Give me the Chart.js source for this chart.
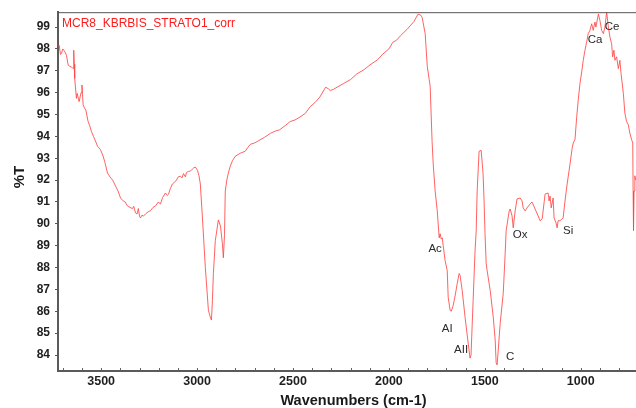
<!DOCTYPE html>
<html>
<head>
<meta charset="utf-8">
<script src="https://cdn.jsdelivr.net/npm/chart.js@4.4.1/dist/chart.umd.min.js"></script>
<style>
  html, body { margin: 0; padding: 0; background: #ffffff; overflow: hidden; }
  #wrap { width: 636px; height: 408px; }
</style>
</head>
<body>
<div id="wrap"><canvas id="c" width="636" height="408"></canvas></div>
<script>
// ---- Data ----
const chartTitle = "MCR8_KBRBIS_STRATO1_corr";
const xAxisTitle = "Wavenumbers (cm-1)";
const yAxisTitle = "%T";

const wavenumbers = [
  3725,3719,3712,3707,3700,3695,3688,3681,3672,3663,3655,3646,3643,3640,3638,3629,3625,3615,3605,3600,
  3594,3587,3580,3568,3560,3551,3540,3533,3519,3504,3490,3480,3467,3450,3440,3425,3412,3399,3385,3375,
  3363,3350,3337,3330,3321,3313,3306,3300,3295,3287,3280,3269,3255,3243,3230,3217,3202,3191,3180,3165,
  3155,3149,3140,3129,3118,3108,3098,3087,3078,3071,3061,3055,3045,3035,3025,3019,3009,2998,2990,2983,
  2972,2957,2941,2930,2925,2920,2915,2905,2889,2878,2868,2863,2857,2853,2845,2837,2827,2815,2801,2775,
  2749,2735,2722,2700,2680,2650,2618,2590,2570,2540,2514,2490,2470,2436,2410,2385,2360,2330,2316,2306,
  2290,2270,2238,2200,2167,2130,2099,2060,2031,2000,1980,1960,1940,1905,1870,1848,1835,1827,1811,1800,
  1790,1785,1775,1769,1759,1748,1738,1733,1727,1722,1717,1707,1696,1691,1681,1675,1665,1655,1644,1634,
  1629,1618,1603,1587,1577,1572,1561,1551,1545,1540,1530,1519,1509,1504,1499,1493,1488,1472,1456,1446,
  1441,1436,1430,1420,1404,1394,1389,1373,1368,1358,1352,1342,1332,1316,1306,1300,1290,1280,1264,1254,
  1238,1222,1212,1201,1186,1170,1165,1160,1154,1144,1139,1129,1123,1118,1108,1092,1082,1071,1056,1045,
  1039,1030,1021,1013,1004,995,987,978,969,961,952,943,935,926,921,908,900,891,882,874,
  865,856,848,839,834,827,822,813,804,796,790,778,770,761,752,744,735,729,727,725,
  722,718,714
];
const transmittance = [
  98.10,98.17,97.75,97.79,98.00,97.94,97.85,97.71,97.26,97.20,97.18,97.10,97.94,97.30,96.65,95.74,95.97,95.59,96.00,96.35,
  95.44,95.30,95.20,94.68,94.50,94.23,94.00,93.86,93.55,93.40,93.10,92.80,92.32,92.10,92.00,91.73,91.50,91.18,91.05,91.00,
  90.82,90.75,90.70,90.80,90.50,90.45,90.70,90.35,90.27,90.40,90.35,90.45,90.55,90.60,90.75,90.82,91.00,90.90,91.20,91.41,
  91.30,91.35,91.60,91.82,91.90,92.00,92.15,92.18,92.10,92.30,92.15,92.35,92.40,92.41,92.50,92.55,92.60,92.45,92.20,91.82,
  90.27,88.00,86.05,85.70,85.60,86.50,87.73,89.23,90.18,89.90,89.09,88.45,89.50,91.50,92.00,92.32,92.64,92.90,93.09,93.23,
  93.32,93.50,93.64,93.70,93.80,93.95,94.14,94.25,94.30,94.50,94.68,94.75,94.85,95.05,95.36,95.55,95.80,96.25,96.18,96.10,
  96.15,96.25,96.41,96.60,96.86,97.05,97.27,97.50,97.77,98.00,98.30,98.40,98.60,98.90,99.25,99.59,99.55,99.45,98.70,97.20,
  96.60,96.30,93.77,92.73,91.50,90.60,89.36,89.55,89.30,89.36,89.00,88.32,87.86,86.64,86.05,86.00,86.27,86.70,87.27,87.73,
  87.64,86.95,85.73,84.55,83.86,84.00,86.50,88.77,89.68,91.50,93.32,93.36,92.27,91.05,89.55,88.18,87.86,86.95,85.73,84.68,
  83.64,83.55,84.23,85.45,86.82,88.64,89.68,90.59,90.68,90.36,89.82,90.59,91.14,91.18,91.05,90.73,90.59,90.73,90.91,91.00,
  90.68,90.36,90.14,90.23,91.36,91.41,91.05,91.27,90.73,91.18,90.27,90.05,89.82,90.14,90.14,90.27,91.05,91.82,92.73,93.45,
  93.70,93.86,94.90,95.67,96.42,96.95,97.48,97.94,98.32,98.70,98.85,99.15,98.85,99.23,99.00,99.60,99.30,98.85,98.70,99.00,
  99.68,99.00,98.55,98.24,97.64,97.94,97.48,97.64,97.10,97.48,96.88,95.97,95.06,94.68,94.53,94.15,93.85,93.70,91.50,89.70,
  91.50,92.20,92.00
];

// Peak annotations (text, wavenumber, %T of the label centre)
const peakLabels = ["Ac", "AI", "AII", "C", "Ox", "Si", "Ca", "Ce"];
const peakLabelX = [1759, 1696, 1624, 1368, 1316, 1066, 925, 837];
const peakLabelY = [88.86, 85.18, 84.23, 83.91, 89.50, 89.68, 98.41, 99.00];

// Axis ticks
const xTickLabels = [3500, 3000, 2500, 2000, 1500, 1000];
const xMinorTicks = [3700,3600,3500,3400,3300,3200,3100,3000,2900,2800,2700,2600,2500,2400,2300,2200,2100,
                     2000,1900,1800,1700,1600,1500,1400,1300,1200,1100,1000,900,800];
const yTickLabels = [84,85,86,87,88,89,90,91,92,93,94,95,96,97,98,99];

const FONT = "'Liberation Sans', Arial, sans-serif";

const framePlugin = {
  id: 'frame',
  afterDraw(chart) {
    const {ctx, chartArea, scales} = chart;
    const xs = scales.x, ys = scales.y;
    ctx.save();
    // top border
    ctx.strokeStyle = '#555555';
    ctx.lineWidth = 1;
    ctx.beginPath();
    ctx.moveTo(chartArea.left, chartArea.top + 0.5);
    ctx.lineTo(chartArea.right, chartArea.top + 0.5);
    ctx.stroke();
    // inward minor ticks on x axis
    ctx.strokeStyle = '#666666';
    ctx.beginPath();
    xMinorTicks.forEach(v => {
      const px = Math.round(xs.getPixelForValue(v)) + 0.5;
      ctx.moveTo(px, chartArea.bottom - 1);
      ctx.lineTo(px, chartArea.bottom - 3);
    });
    ctx.stroke();
    // title
    ctx.fillStyle = '#ff1a1a';
    ctx.font = "12px " + FONT;
    ctx.textAlign = 'left';
    ctx.textBaseline = 'top';
    ctx.fillText(chartTitle, chartArea.left + 4, chartArea.top + 5);
    // peak labels
    ctx.fillStyle = '#2a2a2a';
    ctx.font = "11.5px " + FONT;
    ctx.textAlign = 'center';
    ctx.textBaseline = 'middle';
    peakLabels.forEach((t, i) => {
      ctx.fillText(t, xs.getPixelForValue(peakLabelX[i]), ys.getPixelForValue(peakLabelY[i]));
    });
    // axis titles
    ctx.fillStyle = '#1a1a1a';
    ctx.font = "bold 14.5px " + FONT;
    ctx.textAlign = 'center';
    ctx.textBaseline = 'middle';
    ctx.fillText(xAxisTitle, 353.5, 401);
    ctx.save();
    ctx.translate(19.5, 177);
    ctx.rotate(-Math.PI / 2);
    ctx.font = "bold 15px " + FONT;
    ctx.fillText(yAxisTitle, 0, 0);
    ctx.restore();
    ctx.restore();
  }
};

new Chart(document.getElementById('c'), {
  type: 'line',
  data: {
    datasets: [{
      data: wavenumbers.map((w, i) => ({x: w, y: transmittance[i]})),
      borderColor: 'rgba(255,70,70,0.85)',
      borderWidth: 1,
      pointRadius: 0,
      tension: 0,
      fill: false
    }]
  },
  options: {
    responsive: false,
    animation: false,
    devicePixelRatio: 1,
    layout: { padding: { top: 10, right: 0, left: 0, bottom: 0 } },
    plugins: { legend: { display: false }, tooltip: { enabled: false }, title: { display: false } },
    scales: {
      x: {
        type: 'linear',
        reverse: true,
        min: 712,
        max: 3725,
        afterBuildTicks: s => { s.ticks = xTickLabels.map(v => ({value: v})); },
        afterFit: s => { s.height = 37; },
        grid: { display: true, drawOnChartArea: false, drawTicks: false },
        border: { display: true, color: '#5a5a5a', width: 2 },
        ticks: {
          padding: 3,
          color: '#1f1f1f',
          font: { family: FONT, size: 12.5, weight: 'bold' },
          maxRotation: 0,
          autoSkip: false,
          callback: v => String(v)
        },
        title: { display: false }
      },
      y: {
        type: 'linear',
        min: 83.27,
        max: 99.68,
        afterBuildTicks: s => { s.ticks = yTickLabels.map(v => ({value: v})); },
        afterFit: s => { s.width = 58; },
        grid: { display: true, drawOnChartArea: false, drawTicks: true, tickLength: 3, color: '#555555' },
        border: { display: true, color: '#5a5a5a', width: 2 },
        ticks: {
          padding: 5,
          color: '#1f1f1f',
          font: { family: FONT, size: 12, weight: 'bold' },
          autoSkip: false,
          callback: v => String(v)
        },
        title: { display: false }
      }
    }
  },
  plugins: [framePlugin]
});
</script>
</body>
</html>
